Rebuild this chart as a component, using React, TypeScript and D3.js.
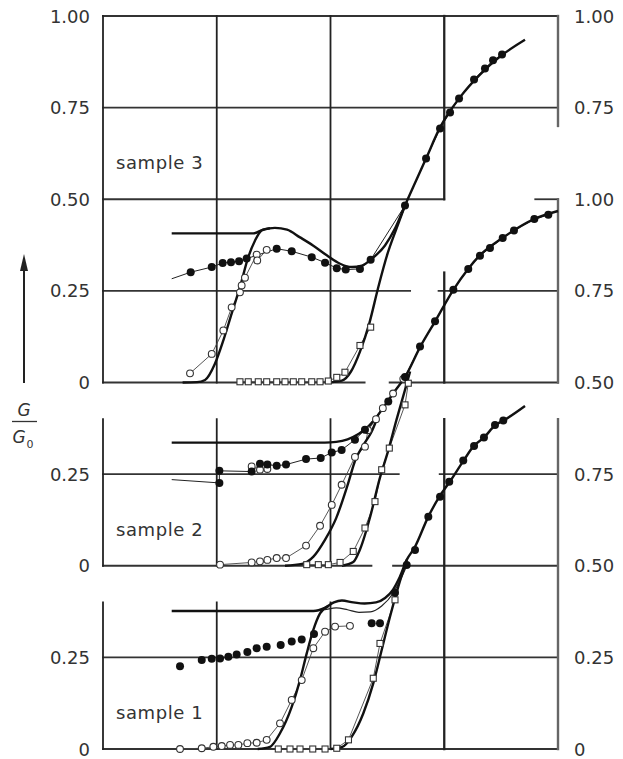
import React from 'react';
import * as d3 from 'd3';

type Pt = [number, number];

// offsets of the stacked panels (in G/G0 units)
const sampleNames = ['sample 1', 'sample 2', 'sample 3'];
const sampleOffsets = [0, 0.5, 1.0];
const leftTicks = [[0, 0.25], [0, 0.25], [0, 0.25, 0.5, 0.75, 1.0]];
const rightTicks = [[0, 0.25, 0.5, 0.75], [0.5, 0.75, 1.0], [0.75, 1.0]];

// ---- sample 3 ----
const s3Lead: Pt = [0.604, 0.283];
const s3Filled: Pt[] = [
  [0.771, 0.301], [0.956, 0.315], [1.052, 0.326], [1.125, 0.328], [1.196, 0.331], [1.263, 0.338],
  [1.527, 0.365], [1.659, 0.358], [1.835, 0.342], [1.952, 0.327], [2.055, 0.312], [2.134, 0.308],
  [2.259, 0.31], [2.353, 0.335], [2.655, 0.483], [2.84, 0.611], [2.963, 0.693], [3.051, 0.737],
  [3.13, 0.775], [3.262, 0.827], [3.358, 0.857], [3.429, 0.879], [3.508, 0.895],
];
const s3Open1: Pt[] = [
  [0.765, 0.025], [0.956, 0.078], [1.058, 0.142], [1.131, 0.205], [1.204, 0.246], [1.219, 0.265],
  [1.248, 0.286], [1.351, 0.349], [1.356, 0.333], [1.439, 0.362],
];
const s3Open2: Pt[] = [
  [1.204, 0.002], [1.277, 0.002], [1.365, 0.002], [1.439, 0.002], [1.527, 0.002], [1.6, 0.002],
  [1.673, 0.002], [1.747, 0.002], [1.835, 0.002], [1.908, 0.002], [1.981, 0.004], [2.055, 0.014],
  [2.127, 0.028], [2.259, 0.101], [2.353, 0.151],
];
const s3CurveA: Pt[] = [
  [0.604, 0.407], [1.321, 0.407], [1.407, 0.417], [1.512, 0.422], [1.618, 0.417], [1.732, 0.396],
  [1.846, 0.374], [1.967, 0.347], [2.084, 0.324], [2.189, 0.315], [2.277, 0.319], [2.365, 0.338],
  [2.479, 0.374], [2.567, 0.42], [2.655, 0.483], [2.84, 0.611], [2.963, 0.696], [3.138, 0.778],
  [3.314, 0.84], [3.49, 0.889], [3.71, 0.935],
];
const s3CurveB: Pt[] = [
  [0.7, 0], [0.826, 0.001], [0.897, 0.007], [0.985, 0.052], [1.058, 0.115], [1.131, 0.188],
  [1.204, 0.26], [1.277, 0.342], [1.336, 0.387], [1.395, 0.415], [1.468, 0.421],
];
const s3CurveC: Pt[] = [
  [1.98, 0], [2.1, 0.005], [2.18, 0.03], [2.26, 0.085], [2.34, 0.16], [2.42, 0.26],
  [2.5, 0.35], [2.58, 0.42], [2.655, 0.483],
];

// ---- sample 2 ----
const s2Lead: Pt = [0.604, 0.235];
const s2Filled: Pt[] = [
  [1.023, 0.226], [1.023, 0.259], [1.307, 0.257], [1.38, 0.278], [1.445, 0.276], [1.527, 0.273],
  [1.609, 0.276], [1.785, 0.291], [1.914, 0.294], [2.011, 0.309], [2.098, 0.316], [2.215, 0.344],
  [2.303, 0.371], [2.508, 0.448], [2.655, 0.515], [2.787, 0.598], [2.919, 0.667], [3.08, 0.753],
  [3.211, 0.81], [3.314, 0.846], [3.402, 0.867], [3.514, 0.894], [3.613, 0.915], [3.792, 0.946],
  [3.915, 0.958],
];
const s2OpenMid: Pt[] = [[1.307, 0.271], [1.38, 0.262], [1.445, 0.264]];
const s2Open1: Pt[] = [
  [1.029, 0.003], [1.307, 0.009], [1.38, 0.012], [1.445, 0.016], [1.527, 0.021], [1.609, 0.021],
  [1.785, 0.055], [1.908, 0.109], [2.011, 0.166], [2.098, 0.221], [2.215, 0.297], [2.303, 0.325],
  [2.33, 0.37], [2.4, 0.4], [2.46, 0.43], [2.55, 0.47], [2.64, 0.51],
];
const s2Open2: Pt[] = [
  [1.791, 0.003], [1.893, 0.003], [1.981, 0.003], [2.084, 0.009], [2.2, 0.039], [2.303, 0.103],
  [2.391, 0.175], [2.45, 0.262], [2.517, 0.321], [2.655, 0.439], [2.684, 0.498],
];
const s2CurveA: Pt[] = [
  [0.604, 0.336], [1.95, 0.336], [2.05, 0.338], [2.15, 0.345], [2.25, 0.36], [2.35, 0.385],
  [2.45, 0.425], [2.55, 0.47], [2.655, 0.515], [2.79, 0.598], [2.92, 0.667], [3.08, 0.753],
  [3.21, 0.81], [3.31, 0.846], [3.51, 0.894], [3.79, 0.946], [4.0, 0.968],
];
const s2CurveB: Pt[] = [
  [1.6, 0], [1.75, 0.005], [1.85, 0.025], [1.95, 0.07], [2.05, 0.13], [2.15, 0.22],
  [2.22, 0.29], [2.29, 0.33], [2.36, 0.365], [2.42, 0.41],
];
const s2CurveC: Pt[] = [
  [2.1, 0], [2.2, 0.01], [2.26, 0.045], [2.35, 0.135], [2.43, 0.235], [2.51, 0.317],
  [2.58, 0.398], [2.655, 0.48], [2.7, 0.53],
];

// ---- sample 1 ----
const s1Filled: Pt[] = [
  [0.677, 0.226], [0.868, 0.243], [0.956, 0.246], [1.029, 0.247], [1.102, 0.252], [1.175, 0.258],
  [1.269, 0.265], [1.351, 0.275], [1.439, 0.279], [1.562, 0.284], [1.659, 0.293], [1.747, 0.299],
  [1.855, 0.314], [2.362, 0.343], [2.435, 0.343], [2.567, 0.426], [2.67, 0.502], [2.743, 0.543],
  [2.86, 0.634], [2.963, 0.688], [3.044, 0.729], [3.167, 0.787], [3.262, 0.827], [3.349, 0.85],
  [3.446, 0.884], [3.519, 0.896],
];
const s1Open1: Pt[] = [
  [0.677, 0], [0.868, 0.002], [0.97, 0.006], [1.044, 0.008], [1.117, 0.011], [1.19, 0.011],
  [1.269, 0.016], [1.351, 0.017], [1.439, 0.025], [1.556, 0.07], [1.659, 0.134], [1.747, 0.188],
  [1.849, 0.275], [1.952, 0.32], [2.04, 0.334], [2.171, 0.336],
];
const s1Open2: Pt[] = [
  [1.541, 0], [1.644, 0], [1.732, 0], [1.844, 0], [1.952, 0], [2.055, 0.002], [2.158, 0.025],
  [2.376, 0.193], [2.435, 0.288], [2.567, 0.407],
];
const s1CurveA: Pt[] = [
  [0.604, 0.3765], [1.85, 0.3765], [1.95, 0.385], [2.03, 0.4], [2.1, 0.405], [2.2, 0.4],
  [2.3, 0.397], [2.4, 0.4], [2.48, 0.412], [2.55, 0.435], [2.61, 0.47], [2.67, 0.516],
  [2.74, 0.55], [2.86, 0.634], [2.96, 0.69], [3.05, 0.73], [3.17, 0.787], [3.26, 0.827],
  [3.35, 0.85], [3.45, 0.884], [3.52, 0.896], [3.71, 0.936],
];
const s1CurveThin: Pt[] = [
  [1.85, 0.3765], [1.95, 0.38], [2.05, 0.385], [2.15, 0.38], [2.25, 0.373], [2.35, 0.374],
  [2.45, 0.39], [2.55, 0.425], [2.62, 0.465], [2.67, 0.5],
];
const s1CurveB: Pt[] = [
  [1.36, 0], [1.468, 0.006], [1.556, 0.043], [1.659, 0.115], [1.732, 0.188], [1.791, 0.261],
  [1.849, 0.325], [1.908, 0.37], [1.981, 0.39],
];
const s1CurveC: Pt[] = [
  [2.0, 0], [2.1, 0.005], [2.187, 0.034], [2.288, 0.097], [2.376, 0.179], [2.45, 0.27],
  [2.523, 0.361], [2.596, 0.443], [2.67, 0.516],
];

// frame pieces of each panel: horizontal [y, x0, x1], vertical [x, y0, y1]
const frames = [
  {
    h: [[0.75, 2.96, 4], [0.5, 2.55, 4], [0.25, 0, 4], [0, 0, 4]],
    v: [[0, 0, 0.4], [1, 0, 0.4], [2, 0, 0.4], [3, 0, 0.9], [4, 0, 0.9]],
  },
  {
    h: [[1, 3.8, 4], [0.75, 2.95, 4], [0.5, 2.52, 4], [0.25, 0, 2.6], [0, 0, 2.36]],
    v: [[0, 0, 0.4], [1, 0, 0.4], [2, 0, 0.4], [3, 0.5, 0.8], [4, 0.5, 1]],
  },
  {
    h: [[1, 0, 4], [0.75, 0, 4], [0.5, 0, 3], [0.25, 0, 2.7], [0, 0, 2.3]],
    v: [[0, 0, 1], [1, 0, 1], [2, 0, 1], [3, 0.5, 1], [4, 0.7, 1]],
  },
];

const samples = [
  { lead: null as Pt | null, filled: s1Filled, filledLine: false, open1: s1Open1, open2: s1Open2, openMid: [] as Pt[],
    thick: [s1CurveA, s1CurveB, s1CurveC], thin: [s1CurveThin], labelY: 0.1 },
  { lead: s2Lead, filled: s2Filled, filledLine: true, open1: s2Open1, open2: s2Open2, openMid: s2OpenMid,
    thick: [s2CurveA, s2CurveB, s2CurveC], thin: [] as Pt[][], labelY: 0.1 },
  { lead: s3Lead, filled: s3Filled, filledLine: true, open1: s3Open1, open2: s3Open2, openMid: [] as Pt[],
    thick: [s3CurveA, s3CurveB, s3CurveC], thin: [] as Pt[][], labelY: 0.6 },
];

const W = 623;
const H = 759;
const FONT = '"DejaVu Sans", sans-serif';

export default function App() {
  const x = d3.scaleLinear().domain([0, 4]).range([103, 558]);
  const y = d3.scaleLinear().domain([0, 2]).range([749, 16]);
  const fmt = (v: number) => (v === 0 ? '0' : v.toFixed(2));

  return (
    <svg width={W} height={H} style={{ position: 'absolute', left: 0, top: 0, background: '#fff' }}>
      {samples.map((s, i) => {
        const off = sampleOffsets[i];
        const ys = (v: number) => y(v + off);
        const smooth = d3.line<Pt>().x(d => x(d[0])).y(d => ys(d[1])).curve(d3.curveMonotoneX);
        const straight = d3.line<Pt>().x(d => x(d[0])).y(d => ys(d[1]));
        const fr = frames[i];
        return (
          <g key={i}>
            {fr.h.map(([v, a, b], k) => (
              <line key={'h' + k} x1={x(a)} x2={x(b)} y1={ys(v)} y2={ys(v)}
                stroke="#333" strokeWidth={1.8} strokeLinecap="square" />
            ))}
            {fr.v.map(([u, a, b], k) => (
              <line key={'v' + k} x1={x(u)} x2={x(u)} y1={ys(a)} y2={ys(b)}
                stroke={u === 4 ? '#666' : '#222'} strokeWidth={u === 3 ? 2.3 : u === 4 ? 2.4 : 1.8}
                strokeLinecap="square" />
            ))}
            {leftTicks[i].map(v => (
              <text key={'l' + v} x={90} y={ys(v)} textAnchor="end" dominantBaseline="central"
                fontFamily={FONT} fontSize={18} fill="#333">{fmt(v)}</text>
            ))}
            {rightTicks[i].map(v => (
              <text key={'r' + v} x={574} y={ys(v)} textAnchor="start" dominantBaseline="central"
                fontFamily={FONT} fontSize={18} fill="#333">{fmt(v)}</text>
            ))}
            <text x={116} y={ys(s.labelY)} dominantBaseline="central" fontFamily={FONT} fontSize={18}
              fill="#333" letterSpacing={0.6}>{sampleNames[i]}</text>

            {/* thin connecting lines */}
            {s.filledLine && (
              <path d={straight(s.lead ? [s.lead, ...s.filled] : s.filled) || ''} fill="none" stroke="#222" strokeWidth={1} />
            )}
            <path d={straight(s.open1) || ''} fill="none" stroke="#444" strokeWidth={0.9} />
            <path d={straight(s.open2) || ''} fill="none" stroke="#444" strokeWidth={0.9} />
            {s.thin.map((c, k) => (
              <path key={'t' + k} d={smooth(c) || ''} fill="none" stroke="#222" strokeWidth={1.2} />
            ))}
            {s.thick.map((c, k) => (
              <path key={'c' + k} d={smooth(c) || ''} fill="none" stroke="#111" strokeWidth={2.4} />
            ))}

            {/* markers */}
            {s.open1.concat(s.openMid).map((d, k) => (
              <circle key={'o' + k} cx={x(d[0])} cy={ys(d[1])} r={3.4} fill="#fff" stroke="#333" strokeWidth={1.1} />
            ))}
            {s.open2.map((d, k) => (
              <rect key={'q' + k} x={x(d[0]) - 3} y={ys(d[1]) - 3} width={6} height={6} fill="#fff"
                stroke="#333" strokeWidth={1.1} />
            ))}
            {s.filled.map((d, k) => (
              <circle key={'f' + k} cx={x(d[0])} cy={ys(d[1])} r={4} fill="#111" />
            ))}
          </g>
        );
      })}

      {/* y axis label: arrow and G/G0 */}
      <line x1={24} x2={24} y1={383} y2={266} stroke="#222" strokeWidth={2} />
      <polygon points="24,254 20,271 28,271" fill="#222" />
      <text x={24} y={416} textAnchor="middle" fontFamily={FONT} fontSize={17} fontStyle="italic" fill="#333">G</text>
      <line x1={12} x2={37} y1={421.5} y2={421.5} stroke="#333" strokeWidth={1.3} />
      <text x={19} y={443} textAnchor="middle" fontFamily={FONT} fontSize={17} fontStyle="italic" fill="#333">G</text>
      <text x={30} y={448} textAnchor="middle" fontFamily={FONT} fontSize={11} fill="#333">0</text>
    </svg>
  );
}
